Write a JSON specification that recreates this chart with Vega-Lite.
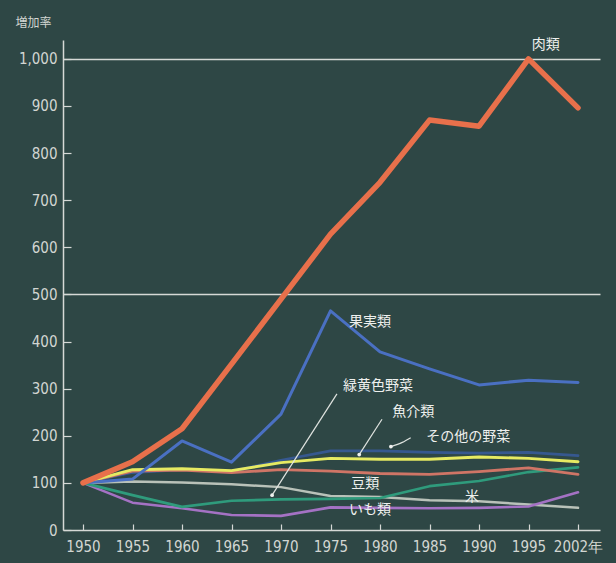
{
  "$schema": "https://vega.github.io/schema/vega-lite/v6.json",
  "autosize": "none",
  "padding": {"left": 63, "top": 40, "right": 16, "bottom": 33},
  "width": 537,
  "height": 490,
  "background": "#2e4745",
  "config": {
    "view": {"stroke": null},
    "font": "DejaVu Sans Condensed",
    "axis": {
      "domainColor": "#d6d9d6",
      "domainWidth": 1.5,
      "tickColor": "#d6d9d6",
      "tickWidth": 1.2,
      "labelColor": "#d2d6d2",
      "labelFont": "DejaVu Sans Condensed",
      "labelFontSize": 15,
      "titleColor": "#d2d6d2"
    }
  },
  "datasets": {
    "series": [
      {"s": "米", "slot": 0, "v": 100}, {"s": "米", "slot": 1, "v": 103}, {"s": "米", "slot": 2, "v": 101}, {"s": "米", "slot": 3, "v": 97}, {"s": "米", "slot": 4, "v": 91}, {"s": "米", "slot": 5, "v": 72}, {"s": "米", "slot": 6, "v": 70}, {"s": "米", "slot": 7, "v": 63}, {"s": "米", "slot": 8, "v": 61}, {"s": "米", "slot": 9, "v": 54}, {"s": "米", "slot": 10, "v": 47},
      {"s": "いも類", "slot": 0, "v": 100}, {"s": "いも類", "slot": 1, "v": 58}, {"s": "いも類", "slot": 2, "v": 46}, {"s": "いも類", "slot": 3, "v": 32}, {"s": "いも類", "slot": 4, "v": 30}, {"s": "いも類", "slot": 5, "v": 48}, {"s": "いも類", "slot": 6, "v": 47}, {"s": "いも類", "slot": 7, "v": 46}, {"s": "いも類", "slot": 8, "v": 47}, {"s": "いも類", "slot": 9, "v": 50}, {"s": "いも類", "slot": 10, "v": 80},
      {"s": "緑黄色野菜", "slot": 0, "v": 100}, {"s": "緑黄色野菜", "slot": 1, "v": 74}, {"s": "緑黄色野菜", "slot": 2, "v": 49}, {"s": "緑黄色野菜", "slot": 3, "v": 62}, {"s": "緑黄色野菜", "slot": 4, "v": 65}, {"s": "緑黄色野菜", "slot": 5, "v": 66}, {"s": "緑黄色野菜", "slot": 6, "v": 68}, {"s": "緑黄色野菜", "slot": 7, "v": 93}, {"s": "緑黄色野菜", "slot": 8, "v": 104}, {"s": "緑黄色野菜", "slot": 9, "v": 123}, {"s": "緑黄色野菜", "slot": 10, "v": 133},
      {"s": "その他の野菜", "slot": 0, "v": 100}, {"s": "その他の野菜", "slot": 1, "v": 122}, {"s": "その他の野菜", "slot": 2, "v": 128}, {"s": "その他の野菜", "slot": 3, "v": 124}, {"s": "その他の野菜", "slot": 4, "v": 148}, {"s": "その他の野菜", "slot": 5, "v": 168}, {"s": "その他の野菜", "slot": 6, "v": 168}, {"s": "その他の野菜", "slot": 7, "v": 165}, {"s": "その他の野菜", "slot": 8, "v": 163}, {"s": "その他の野菜", "slot": 9, "v": 165}, {"s": "その他の野菜", "slot": 10, "v": 158},
      {"s": "豆類", "slot": 0, "v": 100}, {"s": "豆類", "slot": 1, "v": 125}, {"s": "豆類", "slot": 2, "v": 127}, {"s": "豆類", "slot": 3, "v": 122}, {"s": "豆類", "slot": 4, "v": 128}, {"s": "豆類", "slot": 5, "v": 125}, {"s": "豆類", "slot": 6, "v": 120}, {"s": "豆類", "slot": 7, "v": 118}, {"s": "豆類", "slot": 8, "v": 124}, {"s": "豆類", "slot": 9, "v": 132}, {"s": "豆類", "slot": 10, "v": 118},
      {"s": "魚介類", "slot": 0, "v": 100}, {"s": "魚介類", "slot": 1, "v": 128}, {"s": "魚介類", "slot": 2, "v": 130}, {"s": "魚介類", "slot": 3, "v": 126}, {"s": "魚介類", "slot": 4, "v": 143}, {"s": "魚介類", "slot": 5, "v": 152}, {"s": "魚介類", "slot": 6, "v": 150}, {"s": "魚介類", "slot": 7, "v": 150}, {"s": "魚介類", "slot": 8, "v": 155}, {"s": "魚介類", "slot": 9, "v": 152}, {"s": "魚介類", "slot": 10, "v": 145},
      {"s": "果実類", "slot": 0, "v": 100}, {"s": "果実類", "slot": 1, "v": 108}, {"s": "果実類", "slot": 2, "v": 189}, {"s": "果実類", "slot": 3, "v": 144}, {"s": "果実類", "slot": 4, "v": 246}, {"s": "果実類", "slot": 5, "v": 465}, {"s": "果実類", "slot": 6, "v": 378}, {"s": "果実類", "slot": 7, "v": 342}, {"s": "果実類", "slot": 8, "v": 308}, {"s": "果実類", "slot": 9, "v": 318}, {"s": "果実類", "slot": 10, "v": 313},
      {"s": "肉類", "slot": 0, "v": 100}, {"s": "肉類", "slot": 1, "v": 145}, {"s": "肉類", "slot": 2, "v": 215}, {"s": "肉類", "slot": 3, "v": 352}, {"s": "肉類", "slot": 4, "v": 490}, {"s": "肉類", "slot": 5, "v": 628}, {"s": "肉類", "slot": 6, "v": 738}, {"s": "肉類", "slot": 7, "v": 870}, {"s": "肉類", "slot": 8, "v": 857}, {"s": "肉類", "slot": 9, "v": 1000}, {"s": "肉類", "slot": 10, "v": 896}
    ],
    "labels": [
      {"label": "肉類", "slot": 9.35, "v": 1030},
      {"label": "果実類", "slot": 5.8, "v": 441},
      {"label": "緑黄色野菜", "slot": 5.96, "v": 306},
      {"label": "魚介類", "slot": 6.67, "v": 250},
      {"label": "その他の野菜", "slot": 7.78, "v": 197},
      {"label": "豆類", "slot": 5.7, "v": 97},
      {"label": "いも類", "slot": 5.8, "v": 42},
      {"label": "米", "slot": 7.86, "v": 71}
    ],
    "arrows": [
      {"id": "a", "ord": 0, "slot": 5.13, "v": 289}, {"id": "a", "ord": 1, "slot": 3.82, "v": 74},
      {"id": "b", "ord": 0, "slot": 6.04, "v": 235}, {"id": "b", "ord": 1, "slot": 5.58, "v": 160},
      {"id": "c", "ord": 0, "slot": 6.62, "v": 196}, {"id": "c", "ord": 1, "slot": 6.45, "v": 186}, {"id": "c", "ord": 2, "slot": 6.22, "v": 177}
    ],
    "tips": [
      {"slot": 3.82, "v": 74}, {"slot": 5.58, "v": 160}, {"slot": 6.22, "v": 177}
    ]
  },
  "encoding": {
    "x": {
      "field": "slot", "type": "quantitative",
      "scale": {"domain": [-0.404, 10.444], "nice": false, "zero": false},
      "axis": {
        "title": null,
        "values": [0, 1, 2, 3, 4, 5, 6, 7, 8, 9, 10],
        "labelExpr": "['1950','1955','1960','1965','1970','1975','1980','1985','1990','1995','2002年'][datum.value]",
        "tickSize": -6,
        "labelPadding": 15,
        "grid": false,
        "labelFlush": false
      }
    },
    "y": {
      "field": "v", "type": "quantitative",
      "scale": {"domain": [0, 1040], "nice": false},
      "axis": {
        "title": "増加率",
        "titleAngle": 0,
        "titleFont": "Noto Sans CJK JP",
        "titleFontSize": 12,
        "titleFontWeight": "normal",
        "titleAlign": "center",
        "titleBaseline": "middle",
        "titleX": -30,
        "titleY": -18,
        "values": [0, 100, 200, 300, 400, 500, 600, 700, 800, 900, 1000],
        "format": ",d",
        "tickSize": -8,
        "labelPadding": 14,
        "grid": true,
        "gridColor": "#d6d9d6",
        "gridWidth": 1.5,
        "gridOpacity": {"condition": {"test": "datum.value == 500 || datum.value == 1000", "value": 1}, "value": 0}
      }
    }
  },
  "layer": [
    {
      "data": {"name": "series"},
      "transform": [{"filter": "datum.s != '肉類'"}],
      "mark": {"type": "line", "strokeJoin": "round", "strokeCap": "round"},
      "encoding": {
        "color": {
          "field": "s", "type": "nominal", "legend": null,
          "scale": {
            "domain": ["米", "いも類", "緑黄色野菜", "その他の野菜", "豆類", "魚介類", "果実類"],
            "range": ["#b9c2b9", "#a472c4", "#2f9b7c", "#36588f", "#cf7566", "#e6ea62", "#4a70c2"]
          }
        },
        "size": {
          "field": "s", "type": "nominal", "legend": null,
          "scale": {
            "domain": ["米", "いも類", "緑黄色野菜", "その他の野菜", "豆類", "魚介類", "果実類"],
            "range": [2.5, 3, 3, 3, 3.5, 3.5, 3]
          }
        }
      }
    },
    {
      "data": {"name": "series"},
      "transform": [{"filter": "datum.s == '肉類'"}],
      "mark": {"type": "line", "color": "#e8704b", "strokeWidth": 5.5, "strokeJoin": "round", "strokeCap": "round"},
      "encoding": {}
    },
    {
      "data": {"name": "arrows"},
      "mark": {"type": "line", "color": "#dfe3df", "strokeWidth": 1.2, "interpolate": "monotone"},
      "encoding": {
        "detail": {"field": "id"},
        "order": {"field": "ord"}
      }
    },
    {
      "data": {"name": "tips"},
      "mark": {"type": "point", "filled": true, "color": "#eef0ee", "size": 14, "opacity": 1},
      "encoding": {}
    },
    {
      "data": {"name": "labels"},
      "mark": {"type": "text", "font": "Noto Sans CJK JP", "fontSize": 14, "color": "#eef0ee", "align": "center", "baseline": "middle"},
      "encoding": {"text": {"field": "label"}}
    }
  ]
}
